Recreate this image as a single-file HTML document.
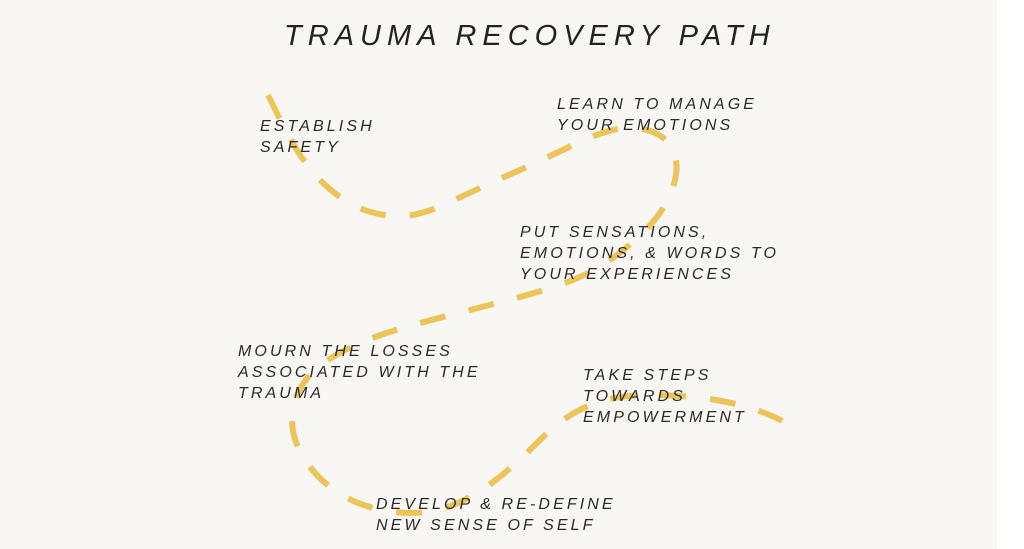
<!DOCTYPE html>
<html><head><meta charset="utf-8"><style>
html,body{margin:0;padding:0}
body{width:1024px;height:549px;background:#fff;position:relative;overflow:hidden;font-family:"Liberation Sans",sans-serif}
.bg{position:absolute;left:0;top:0;width:997px;height:549px;background:#f8f7f4}
svg{position:absolute;left:0;top:0}
.t{position:absolute;font-style:italic;color:#2a2a2a;font-size:16px;letter-spacing:3.1px;line-height:21px;white-space:nowrap}
.title{position:absolute;left:284px;top:20px;font-style:italic;font-size:29px;letter-spacing:6px;color:#222;white-space:nowrap}
</style></head><body>
<div class="bg"></div>
<svg width="1024" height="549"><path d="M268,95 C285,130 300,160 320,180 C345,205 370,216 400,216 C430,216 450,200 520,170 C570,148 600,128 630,128 C665,128 682,150 675,180 C668,210 645,235 610,260 C580,282 540,292 470,310 C400,328 350,340 315,370 C288,395 285,430 305,460 C325,490 360,512 410,513 C460,514 500,480 540,440 C570,410 600,395 650,395 C700,395 750,402 790,425" fill="none" stroke="#ecc45a" stroke-width="6" stroke-dasharray="26 24"/></svg>
<div class="title">TRAUMA RECOVERY PATH</div>
<div class="t" style="left:260px;top:116px">ESTABLISH<br>SAFETY</div>
<div class="t" style="left:557px;top:94px">LEARN TO MANAGE<br>YOUR EMOTIONS</div>
<div class="t" style="left:520px;top:222px">PUT SENSATIONS,<br>EMOTIONS, &amp; WORDS TO<br>YOUR EXPERIENCES</div>
<div class="t" style="left:238px;top:341px">MOURN THE LOSSES<br>ASSOCIATED WITH THE<br>TRAUMA</div>
<div class="t" style="left:583px;top:365px">TAKE STEPS<br>TOWARDS<br>EMPOWERMENT</div>
<div class="t" style="left:376px;top:494px">DEVELOP &amp; RE-DEFINE<br>NEW SENSE OF SELF</div>
</body></html>
